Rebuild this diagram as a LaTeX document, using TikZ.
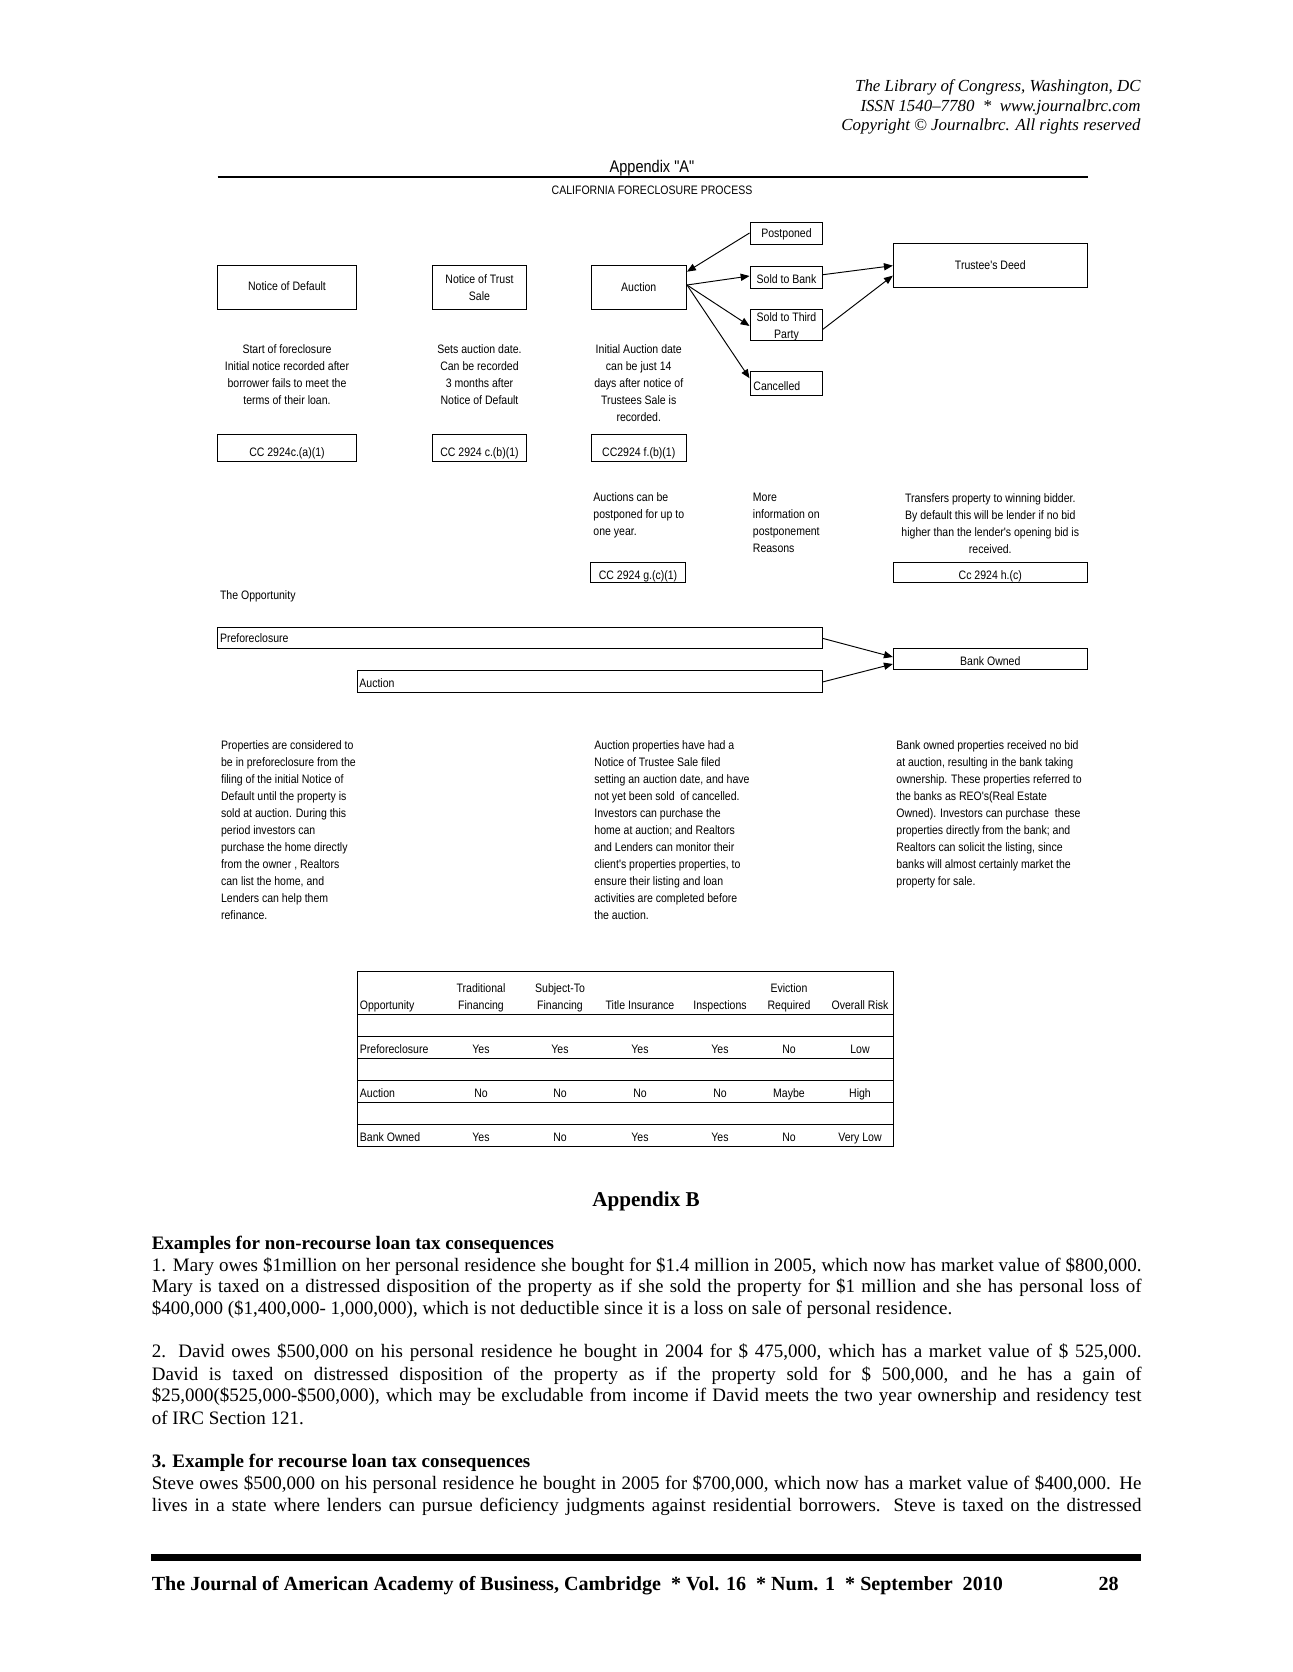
\documentclass[tikz,border=0pt]{standalone}
\usepackage{fontspec}
\setmainfont{Liberation Serif}
\newfontfamily\dfont[FakeStretch=0.86]{Liberation Sans}
\usetikzlibrary{arrows.meta,calc}
\newlength\bodyw
\setlength\bodyw{468.8pt}
\newcommand\jline[1]{\makebox[\bodyw][s]{#1}}
\begin{document}
\begin{tikzpicture}[x=0.47368pt,y=-0.47368pt,
  bx/.style 2 args={draw,line width=0.45pt,inner sep=0pt,minimum width=#1*0.47368pt,minimum height=#2*0.47368pt},
  dt/.style={inner sep=0pt,font=\dfont\fontsize{5.8}{8.05}\selectfont},
  dtc/.style={dt,anchor=base,align=center},
  dtl/.style={dt,anchor=base west,align=left},
  arr/.style={-{Triangle[length=4.2pt,width=3.4pt]},line width=0.45pt},
  bt/.style={inner sep=0pt,anchor=base west,font=\fontsize{9}{10.2}\selectfont},
  bth/.style={bt,font=\bfseries\fontsize{9}{10.2}\selectfont},
  hd/.style={inner sep=0pt,anchor=base east,font=\itshape\fontsize{8}{9.3}\selectfont}]
\useasboundingbox (0,0) rectangle (1292,1672);
\fill[white] (0,0) rectangle (1292,1672);

% page header
\node[hd] (h1) at (1141,91.3) {The Library of Congress, Washington, DC};
\node[hd] (h2) at (1141,111.6) {ISSN 1540–7780\ \ *\ \ www.journalbrc.com};
\node[hd] (h3) at (1141,130.8) {Copyright © Journalbrc. All rights reserved};

% appendix A title
\node[dt,anchor=base,font=\dfont\fontsize{8}{10}\selectfont] (tA) at (652,173) {Appendix "A"};
\draw[line width=0.5pt] (217.5,177) -- (1088,177);
\node[dtc] (tB) at (652,195) {CALIFORNIA FORECLOSURE PROCESS};

% process boxes
\node[bx={139}{44}] (nod) at (287,287) {};
\node[bx={94}{44}] (nts) at (479.5,287) {};
\node[bx={95.5}{44}] (auc) at (638.75,287) {};
\node[bx={72.5}{22}] (post) at (786.25,233) {};
\node[bx={72.5}{22}] (stb) at (786.25,277) {};
\node[bx={72.5}{30.5}] (st3) at (786.25,324.75) {};
\node[bx={72.5}{24.5}] (can) at (786.25,383.25) {};
\node[bx={194}{43.7}] (td) at (990.3,265.15) {};

\node[dtc] (nodT) at (287,291) {Notice of Default};
\node[dtc] (ntsT) at (479.5,300) {Notice of Trust\\Sale};
\node[dtc] (aucT) at (638.75,291.5) {Auction};
\node[dtc] (postT) at (786.5,238) {Postponed};
\node[dtc] (stbT) at (786.5,283) {Sold to Bank};
\node[dtc] (st3T) at (786.5,338.7) {Sold to Third\\Party};
\node[dtl] (canT) at (753,390) {Cancelled};
\node[dtc] (tdT) at (990.3,269.7) {Trustee's Deed};

% connectors
\draw[arr] (post.west) -- ($(auc.east)+(0,-15.3)$);
\draw[arr] ($(auc.east)+(0,-2)$) -- ($(stb.west)+(0,-1)$);
\draw[arr] ($(auc.east)+(0,-2)$) -- ($(st3.west)+(0,1.2)$);
\draw[arr] ($(auc.east)+(0,-2)$) -- ($(can.west)+(0,-5)$);
\draw[arr] ($(stb.east)+(0,-2.3)$) -- ($(td.west)+(0,0.5)$);
\draw[arr] ($(st3.east)+(0,4.5)$) -- ($(td.west)+(0,10.5)$);

% descriptions
\node[dtc] (d1) at (287,404.5) {Start of foreclosure\\Initial notice recorded after\\borrower fails to meet the\\terms of their loan.};
\node[dtc] (d2) at (479.5,404.5) {Sets auction date.\\Can be recorded\\3 months after\\Notice of Default};
\node[dtc] (d3) at (638.75,421.5) {Initial Auction date\\can be just 14\\days after notice of\\Trustees Sale is\\recorded.};

% code boxes
\node[bx={139}{27}] (cc1) at (287,447.5) {};
\node[bx={94}{27}] (cc2) at (479.5,447.5) {};
\node[bx={95.5}{27}] (cc3) at (638.75,447.5) {};
\node[dtc] (cc1T) at (287,456.7) {CC 2924c.(a)(1)};
\node[dtc] (cc2T) at (479.5,456.7) {CC 2924 c.(b)(1)};
\node[dtc] (cc3T) at (638.75,456.7) {CC2924 f.(b)(1)};

\node[dtl] (d4) at (593,535.7) {Auctions can be\\postponed for up to\\one year.};
\node[dtl] (d5) at (752.5,552.7) {More\\information on\\postponement\\Reasons};
\node[dtc] (d6) at (990.3,553.3) {Transfers property to winning bidder.\\By default this will be lender if no bid\\higher than the lender's opening bid is\\received.};

\node[bx={95}{20}] (cc4) at (638.05,572) {};
\node[bx={194}{20}] (cc5) at (990.3,572) {};
\node[dtc] (cc4T) at (638.05,579) {CC 2924 g.(c)(1)};
\node[dtc] (cc5T) at (990.3,579) {Cc 2924 h.(c)};

% opportunity
\node[dtl] (opp) at (219.6,599) {The Opportunity};
\node[bx={604.5}{21}] (pre) at (519.75,637.5) {};
\node[bx={465}{21.5}] (aucb) at (589.5,681.25) {};
\node[bx={194}{21.5}] (bo) at (990.3,658.75) {};
\node[dtl] (preT) at (219.6,642.5) {Preforeclosure};
\node[dtl] (aucbT) at (359,687) {Auction};
\node[dtc] (boT) at (990.3,665) {Bank Owned};
\draw[arr] ($(pre.east)+(0,0.8)$) -- ($(bo.west)+(0,-1.75)$);
\draw[arr] ($(aucb.east)+(0,0.75)$) -- ($(bo.west)+(0,5.25)$);

\node[dtl] (pa) at (220.7,919.7) {Properties are considered to\\be in preforeclosure from the\\filing of the initial Notice of\\Default until the property is\\sold at auction. During this\\period investors can\\purchase the home directly\\from the owner , Realtors\\can list the home, and\\Lenders can help them\\refinance.};
\node[dtl] (pb) at (594,919.7) {Auction properties have had a\\Notice of Trustee Sale filed\\setting an auction date, and have\\not yet been sold\ \ of cancelled.\\Investors can purchase the\\home at auction; and Realtors\\and Lenders can monitor their\\client's properties properties, to\\ensure their listing and loan\\activities are completed before\\the auction.};
\node[dtl] (pc) at (896,885.7) {Bank owned properties received no bid\\at auction, resulting in the bank taking\\ownership. These properties referred to\\the banks as REO's(Real Estate\\Owned). Investors can purchase\ \ these\\properties directly from the bank; and\\Realtors can solicit the listing, since\\banks will almost certainly market the\\property for sale.};

% table
\draw[line width=0.45pt] (357,971.5) rectangle (893.3,1146.5);
\foreach \yy in {1014.5,1036.5,1058.5,1080.5,1102.5,1124.5}
  \draw[line width=0.45pt] (357,\yy) -- (893.3,\yy);
\node[dtl] (th0) at (359.5,1009) {Opportunity};
\node[dtc] (th1) at (481,1009) {Traditional\\Financing};
\node[dtc] (th2) at (560,1009) {Subject-To\\Financing};
\node[dtc] (th3) at (640,1009) {Title Insurance};
\node[dtc] (th4) at (720,1009) {Inspections};
\node[dtc] (th5) at (789,1009) {Eviction\\Required};
\node[dtc] (th6) at (860,1009) {Overall Risk};
\foreach \yy/\ra/\rb/\rc/\rd/\re/\rf/\rg [count=\i] in {
  1053.7/Preforeclosure/Yes/Yes/Yes/Yes/No/Low,
  1097.7/Auction/No/No/No/No/Maybe/High,
  1141.7/Bank Owned/Yes/No/Yes/Yes/No/Very Low}{
  \node[dtl] (r\i c0) at (359.5,\yy) {\ra};
  \node[dtc] (r\i c1) at (481,\yy) {\rb};
  \node[dtc] (r\i c2) at (560,\yy) {\rc};
  \node[dtc] (r\i c3) at (640,\yy) {\rd};
  \node[dtc] (r\i c4) at (720,\yy) {\re};
  \node[dtc] (r\i c5) at (789,\yy) {\rf};
  \node[dtc] (r\i c6) at (860,\yy) {\rg};
}

% appendix B text
\node[bt,anchor=base,font=\bfseries\fontsize{10}{12}\selectfont] (appB) at (646,1206) {Appendix B};
\node[bth] (e1h) at (151.4,1249) {Examples for non-recourse loan tax consequences};
\node[bt] (e1a) at (151.4,1271.4) {\jline{1. Mary owes \$1million on her personal residence she bought for \$1.4 million in 2005, which now has market value of \$800,000.}};
\node[bt] (e1b) at (151.4,1292.7) {\jline{Mary is taxed on a distressed disposition of the property as if she sold the property for \$1 million and she has personal loss of}};
\node[bt] (e1c) at (151.4,1314) {\$400,000 (\$1,400,000- 1,000,000), which is not deductible since it is a loss on sale of personal residence.};
\node[bt] (e2a) at (151.4,1357.8) {\jline{2. David owes \$500,000 on his personal residence he bought in 2004 for \$ 475,000, which has a market value of \$ 525,000.}};
\node[bt] (e2b) at (151.4,1380) {\jline{David is taxed on distressed disposition of the property as if the property sold for \$ 500,000, and he has a gain of}};
\node[bt] (e2c) at (151.4,1401.5) {\jline{\$25,000(\$525,000-\$500,000), which may be excludable from income if David meets the two year ownership and residency test}};
\node[bt] (e2d) at (151.4,1424) {of IRC Section 121.};
\node[bth] (e3h) at (151.4,1467.6) {3. Example for recourse loan tax consequences};
\node[bt] (e3a) at (151.4,1489) {\jline{Steve owes \$500,000 on his personal residence he bought in 2005 for \$700,000, which now has a market value of \$400,000. He}};
\node[bt] (e3b) at (151.4,1511) {\jline{lives in a state where lenders can pursue deficiency judgments against residential borrowers. Steve is taxed on the distressed}};

% footer
\draw[line width=3.55pt] (151.4,1557.5) -- (1141,1557.5);
\node[bt,font=\bfseries\fontsize{9.5}{11}\selectfont] (foot) at (151.4,1590) {The Journal of American Academy of Business, Cambridge\ \ * Vol. 16\ \ * Num. 1\ \ * September\ \ 2010};
\node[bt,anchor=base east,font=\bfseries\fontsize{9.5}{11}\selectfont] (pg) at (1119,1590) {28};
\end{tikzpicture}
\end{document}
